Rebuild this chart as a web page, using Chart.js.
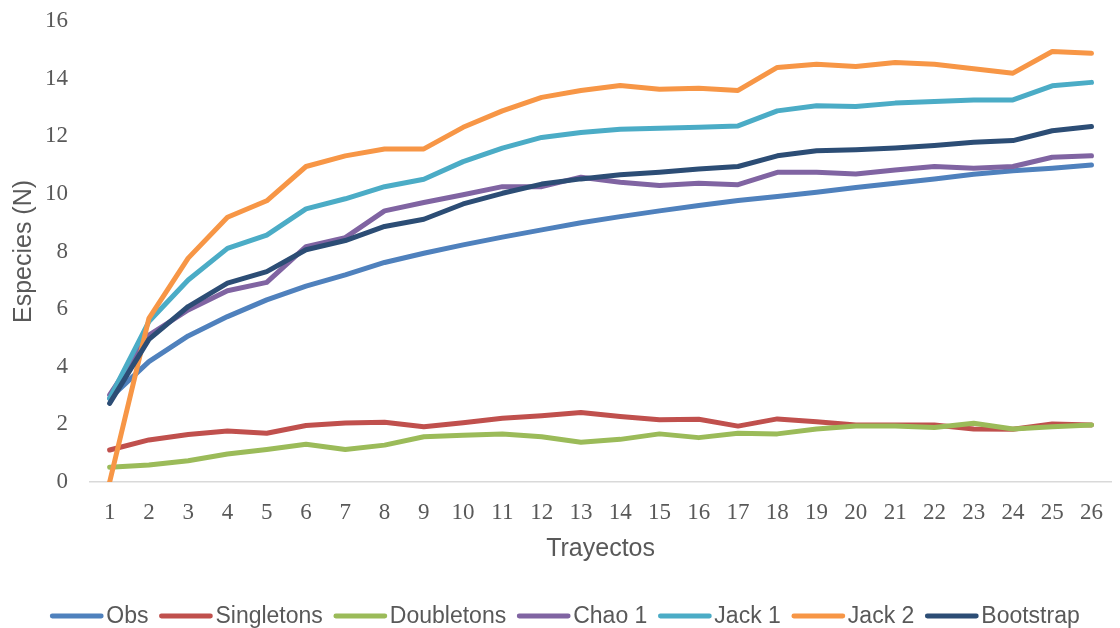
<!DOCTYPE html>
<html>
<head>
<meta charset="utf-8">
<script src="https://cdn.jsdelivr.net/npm/chart.js@4/dist/chart.umd.min.js"></script>
<style>
  html, body { margin: 0; padding: 0; background: #fff; }
  canvas { display: block; }
</style>
</head>
<body>
<canvas id="curveChart" width="1120" height="628"></canvas>
<script>
const trayectos = ["1","2","3","4","5","6","7","8","9","10","11","12","13","14","15","16","17","18","19","20","21","22","23","24","25","26"]
const yTicks = [0, 2, 4, 6, 8, 10, 12, 14, 16]

const obs = [2.9, 4.18, 5.07, 5.74, 6.32, 6.8, 7.19, 7.62, 7.94, 8.23, 8.5, 8.75, 9.0, 9.21, 9.41, 9.6, 9.77, 9.91, 10.06, 10.22, 10.37, 10.52, 10.68, 10.8, 10.89, 11.0]
const singletons = [1.11, 1.46, 1.65, 1.77, 1.69, 1.96, 2.05, 2.07, 1.92, 2.06, 2.21, 2.3, 2.41, 2.27, 2.16, 2.18, 1.94, 2.19, 2.09, 1.98, 1.98, 1.98, 1.84, 1.83, 2.01, 1.98]
const doubletons = [0.51, 0.59, 0.74, 0.97, 1.13, 1.31, 1.13, 1.28, 1.57, 1.62, 1.67, 1.57, 1.38, 1.48, 1.67, 1.54, 1.69, 1.67, 1.84, 1.94, 1.94, 1.89, 2.04, 1.84, 1.92, 1.98]
const chao1 = [3.02, 5.1, 5.97, 6.64, 6.93, 8.17, 8.48, 9.41, 9.7, 9.97, 10.25, 10.25, 10.58, 10.4, 10.29, 10.37, 10.32, 10.75, 10.75, 10.69, 10.83, 10.95, 10.89, 10.95, 11.27, 11.32]
const jack1 = [2.9, 5.57, 7.01, 8.11, 8.57, 9.48, 9.83, 10.25, 10.51, 11.12, 11.59, 11.96, 12.13, 12.24, 12.28, 12.31, 12.36, 12.88, 13.06, 13.03, 13.15, 13.21, 13.26, 13.26, 13.75, 13.87]
const jack2 = [0, 5.68, 7.77, 9.19, 9.76, 10.95, 11.32, 11.56, 11.56, 12.31, 12.88, 13.35, 13.59, 13.76, 13.63, 13.67, 13.59, 14.39, 14.5, 14.42, 14.56, 14.5, 14.34, 14.19, 14.94, 14.88]
const bootstrap = [2.73, 4.95, 6.09, 6.9, 7.3, 8.06, 8.38, 8.87, 9.12, 9.65, 10.02, 10.34, 10.52, 10.66, 10.75, 10.86, 10.95, 11.32, 11.5, 11.53, 11.59, 11.68, 11.79, 11.85, 12.19, 12.34]

const seriesNames = ["Obs", "Singletons", "Doubletons", "Chao 1", "Jack 1", "Jack 2", "Bootstrap"]
const seriesData = [obs, singletons, doubletons, chao1, jack1, jack2, bootstrap]
const colors = ["#4f81bd", "#c0504d", "#9bbb59", "#8064a2", "#4bacc6", "#f79646", "#2c4d75"]

const textGrey = "#595959"

// legend drawn by hand so the line/text spacing matches Excel
const lineLegend = {
	id: "lineLegend",
	afterDraw(chart) {
		const ctx = chart.ctx
		const lineLen = 53
		const gapText = 3
		const gapItem = 11
		const cy = 616
		ctx.save()
		ctx.font = "23px 'Liberation Sans', Arial, sans-serif"
		const items = chart.data.datasets.map((ds) => ({
			label: ds.label,
			color: ds.borderColor,
			w: lineLen + gapText + ctx.measureText(ds.label).width,
		}))
		const total = items.reduce((s, it) => s + it.w, 0) + gapItem * (items.length - 1)
		let x = 565 - total / 2
		items.forEach((it) => {
			ctx.strokeStyle = it.color
			ctx.lineWidth = 4.8
			ctx.lineCap = "round"
			ctx.beginPath()
			ctx.moveTo(x + 2, cy)
			ctx.lineTo(x + lineLen - 2, cy)
			ctx.stroke()
			ctx.fillStyle = textGrey
			ctx.textBaseline = "middle"
			ctx.textAlign = "left"
			ctx.fillText(it.label, x + lineLen + gapText, cy + 1)
			x += it.w + gapItem
		})
		ctx.restore()
	},
}

const ctx = document.getElementById("curveChart").getContext("2d")

new Chart(ctx, {
	type: "line",
	data: {
		labels: trayectos,
		datasets: seriesNames.map((name, i) => ({
			label: name,
			data: seriesData[i],
			borderColor: colors[i],
			backgroundColor: colors[i],
			borderWidth: 5,
			borderCapStyle: "round",
			borderJoinStyle: "round",
			pointRadius: 0,
			tension: 0,
			fill: false,
			order: seriesNames.length - i,
		})),
	},
	options: {
		responsive: false,
		animation: false,
		layout: { padding: { left: 0, right: 0, top: 21, bottom: 50 } },
		plugins: {
			legend: { display: false },
			tooltip: { enabled: false },
		},
		scales: {
			x: {
				offset: true,
				grid: { display: true, drawOnChartArea: false, drawTicks: false, color: "rgba(0,0,0,0)" },
				border: { display: true, color: "#d9d9d9", width: 1.5 },
				ticks: {
					padding: 17,
					maxRotation: 0,
					autoSkip: false,
					color: textGrey,
					font: { family: "'Liberation Serif', 'DejaVu Serif', serif", size: 23 },
				},
				title: {
					display: true,
					text: "Trayectos",
					color: textGrey,
					font: { family: "'Liberation Sans', Arial, sans-serif", size: 25 },
					padding: { top: 4, bottom: 14 },
				},
				afterFit: (scale) => {
					scale.height = 96
				},
			},
			y: {
				min: 0,
				max: 16,
				afterBuildTicks: (scale) => {
					scale.ticks = yTicks.map((v) => ({ value: v }))
				},
				grid: { display: false, drawTicks: false },
				border: { display: false },
				ticks: {
					padding: 22,
					color: textGrey,
					font: { family: "'Liberation Serif', 'DejaVu Serif', serif", size: 23 },
				},
				title: {
					display: true,
					text: "Especies (N)",
					color: textGrey,
					font: { family: "'Liberation Sans', Arial, sans-serif", size: 25 },
					padding: { top: 9, bottom: 4 },
				},
				afterFit: (scale) => {
					scale.width = 90
					scale.paddingTop = 0
					scale.paddingBottom = 0
				},
			},
		},
	},
	plugins: [lineLegend],
})
</script>
</body>
</html>
